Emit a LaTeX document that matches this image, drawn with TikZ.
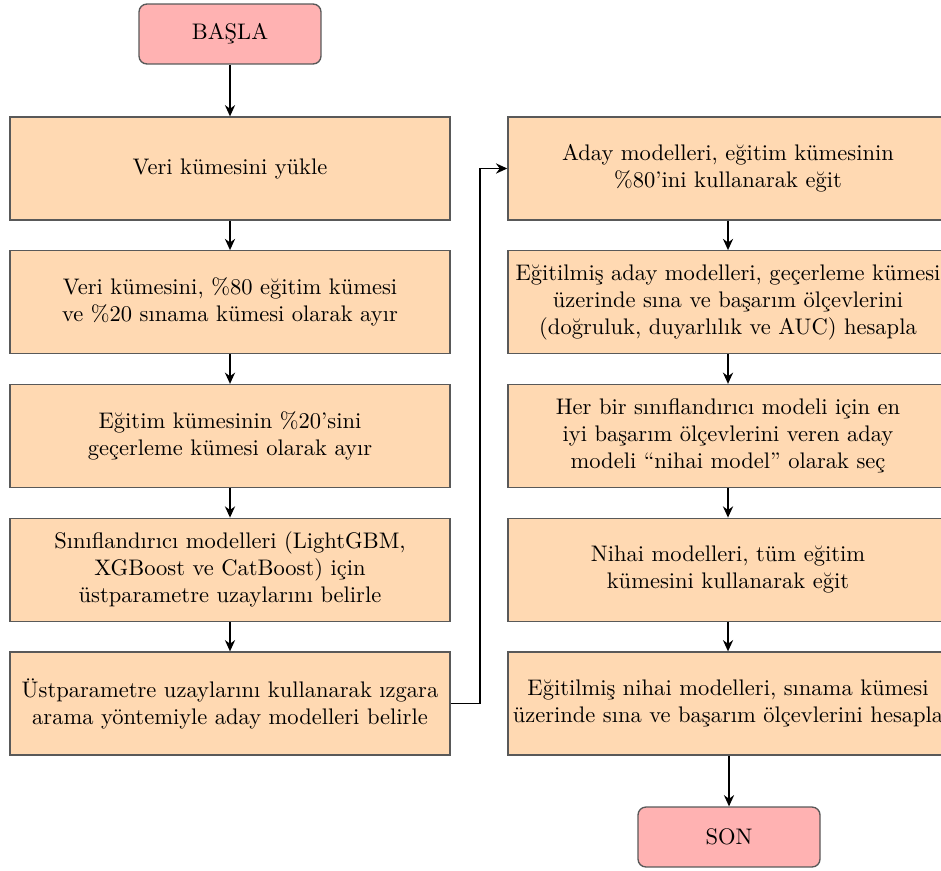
\documentclass[tikz,border=0pt]{standalone}
\usepackage{fontspec}
\usetikzlibrary{arrows.meta}
\tikzset{
    adim/.style={draw=black!65,semithick,fill=orange!30,minimum width=195.4pt,minimum height=45.7pt,align=center,inner sep=2pt},
    uc/.style={draw=black!65,semithick,fill=red!30,rounded corners=3.5pt,minimum width=80.8pt,minimum height=26.6pt},
    ok/.style={thick,-{Stealth[length=5pt,width=4.5pt]}}
}
\begin{document}
\begin{tikzpicture}[x=0.444pt,y=0.444pt]
                \useasboundingbox (0,0) rectangle (941,-870);
                \node[uc] (basla) at (230, -34) {BAŞLA};
                \node[adim] (s1) at (230, -168.5) {Veri kümesini yükle};
                \node[adim] (s2) at (230, -302.25) {Veri kümesini, \%80 eğitim kümesi\\ve \%20 sınama kümesi olarak ayır};
                \node[adim] (s3) at (230, -436) {Eğitim kümesinin \%20’sini\\geçerleme kümesi olarak ayır};
                \node[adim] (s4) at (230, -569.75) {Sınıflandırıcı modelleri (LightGBM,\\XGBoost ve CatBoost) için\\üstparametre uzaylarını belirle};
                \node[adim] (s5) at (230, -703.5) {Üstparametre uzaylarını kullanarak ızgara\\arama yöntemiyle aday modelleri belirle};

                \node[adim] (a1) at (728, -168.5) {Aday modelleri, eğitim kümesinin\\\%80’ini kullanarak eğit};
                \node[adim] (a2) at (728, -302.25) {Eğitilmiş aday modelleri, geçerleme kümesi\\üzerinde sına ve başarım ölçevlerini\\(doğruluk, duyarlılık ve AUC) hesapla};
                \node[adim] (a3) at (728, -436) {Her bir sınıflandırıcı modeli için en\\iyi başarım ölçevlerini veren aday\\modeli “nihai model” olarak seç};
                \node[adim] (a4) at (728, -569.75) {Nihai modelleri, tüm eğitim\\kümesini kullanarak eğit};
                \node[adim] (a5) at (728, -703.5) {Eğitilmiş nihai modelleri, sınama kümesi\\üzerinde sına ve başarım ölçevlerini hesapla};
                \node[uc] (son) at (729, -837) {SON};

                \coordinate (k1) at (480, -703.5);
                \coordinate (k2) at (480, -168.5);

                \draw[ok] (basla) -- (s1);
                \draw[ok] (s1) -- (s2);
                \draw[ok] (s2) -- (s3);
                \draw[ok] (s3) -- (s4);
                \draw[ok] (s4) -- (s5);
                \draw[ok] (s5.east) -- (k1) -- (k2) -- (a1.west);
                \draw[ok] (a1) -- (a2);
                \draw[ok] (a2) -- (a3);
                \draw[ok] (a3) -- (a4);
                \draw[ok] (a4) -- (a5);
                \draw[ok] (a5.south -| son) -- (son);
            \end{tikzpicture}
\end{document}
